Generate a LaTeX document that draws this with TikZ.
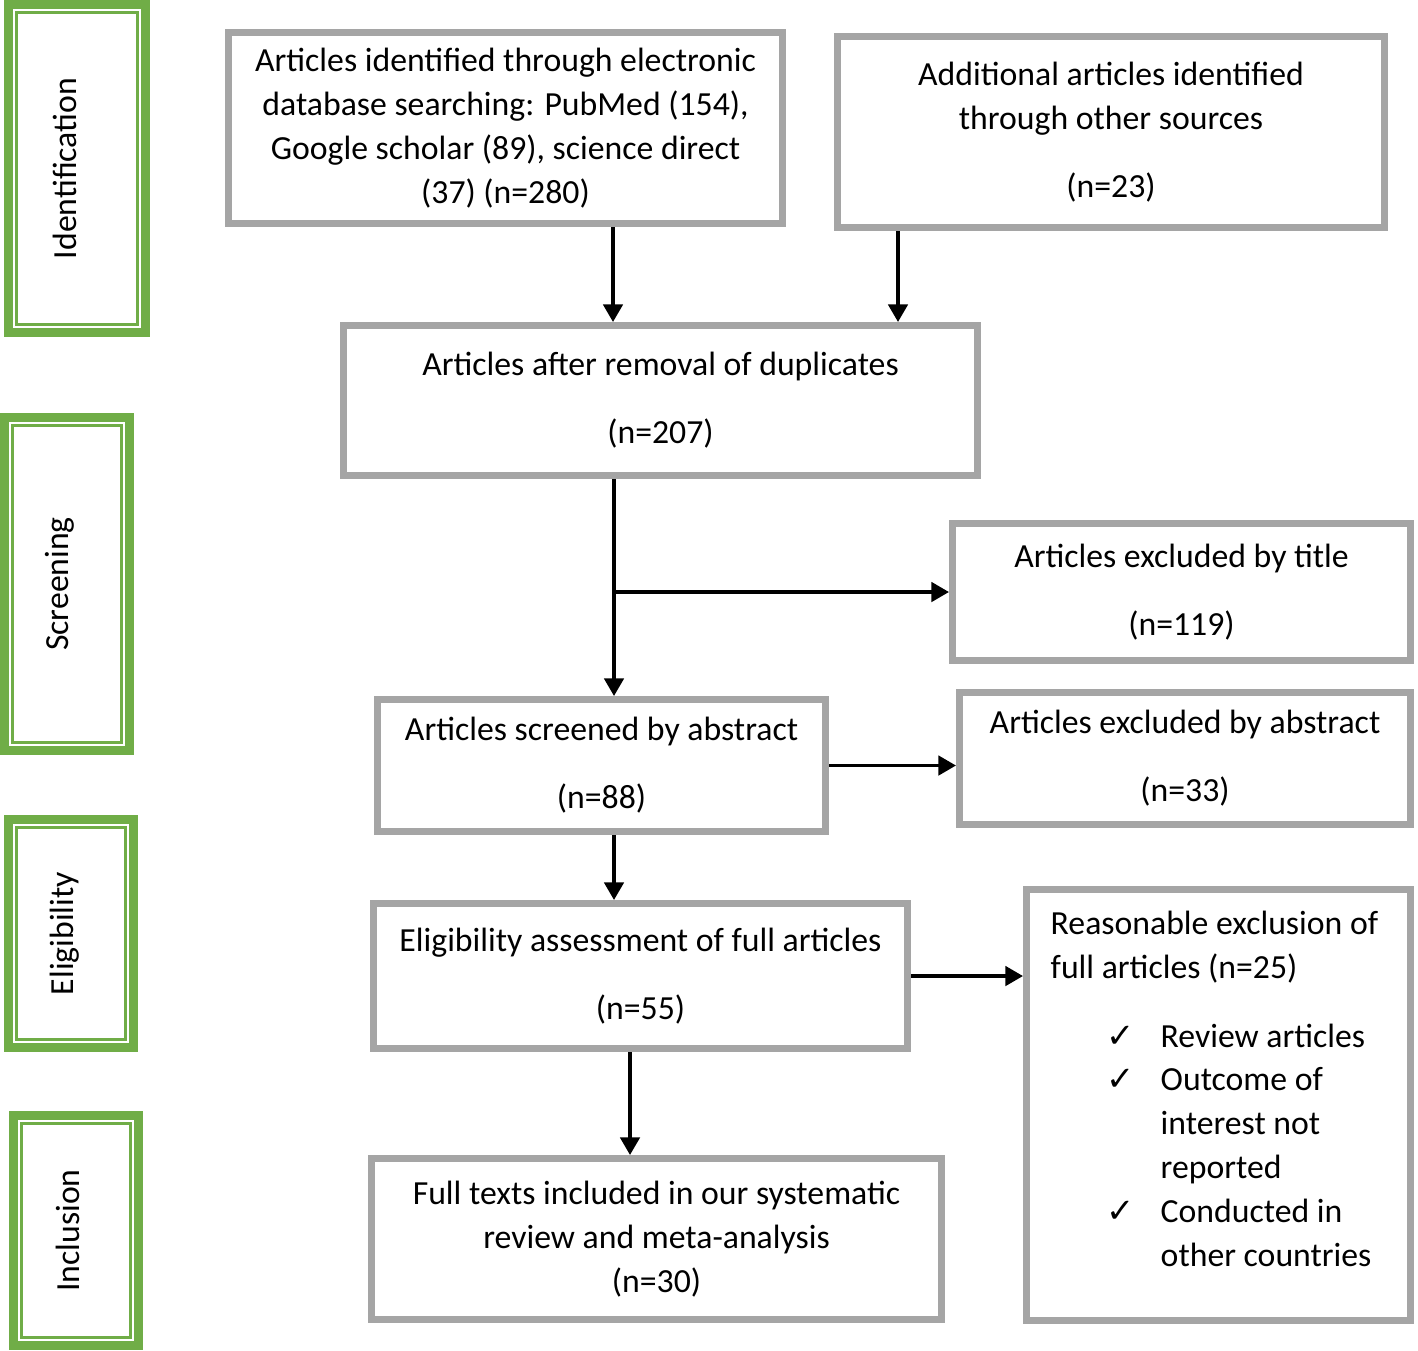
\documentclass[tikz,border=0pt]{standalone}
\usepackage{fontspec}
\setmainfont{Carlito}
\newfontfamily\checkfont{DejaVu Sans}
\usetikzlibrary{arrows.meta}
\definecolor{stagegreen}{HTML}{70AD47}
\definecolor{boxgray}{HTML}{A5A5A5}
\tikzset{
	stage/.style={draw=stagegreen, line width=2.6pt, inner sep=0pt},
	stageinner/.style={draw=stagegreen, line width=0.85pt},
	flowbox/.style={draw=boxgray, line width=2pt, align=center, inner sep=0pt},
	arr/.style={-{Triangle[length=5pt,width=5.5pt]}, line width=1pt},
}
\newcommand{\chk}{\hspace*{0.56cm}\makebox[0.54cm][l]{\checkfont ✓}}
\newcommand{\hang}{\hspace*{1.1cm}}

\begin{document}
\begin{tikzpicture}[every node/.style={font=\fontsize{9.6}{12.5}\selectfont}]
	\useasboundingbox (0,0) rectangle (14.18,-13.5);
	\node[stage, minimum width=1.37cm, minimum height=3.28cm] (idStage) at (0.77,-1.685) {\rotatebox{90}{Identification}\hspace*{0.24cm}};
	\node[stage, minimum width=1.25cm, minimum height=3.33cm] (scrStage) at (0.67,-5.84) {\rotatebox{90}{Screening}\hspace*{0.14cm}};
	\node[stage, minimum width=1.25cm, minimum height=2.28cm] (eligStage) at (0.71,-9.335) {\rotatebox{90}{Eligibility}\hspace*{0.12cm}};
	\node[stage, minimum width=1.25cm, minimum height=2.30cm] (inclStage) at (0.76,-12.305) {\rotatebox{90}{Inclusion}\hspace*{0.16cm}};
	\foreach \s in {idStage,scrStage,eligStage,inclStage}
		\draw[stageinner] ([shift={(0.13,0.13)}]\s.south west) rectangle ([shift={(-0.13,-0.13)}]\s.north east);
	
	\node[flowbox, minimum width=5.54cm, minimum height=1.91cm] (dbSearch) at (5.055,-1.28)
		{Articles identified through electronic\\database searching: PubMed (154),\\Google scholar (89), science direct\\(37) (n=280)};
	\node[flowbox, minimum width=5.47cm, minimum height=1.91cm] (otherSrc) at (11.11,-1.32)
		{Additional articles identified\\through other sources\\[0.24cm](n=23)};
	\node[flowbox, minimum width=6.34cm, minimum height=1.50cm] (dedup) at (6.605,-4.005)
		{Articles after removal of duplicates\\[0.24cm](n=207)};
	\node[flowbox, minimum width=4.58cm, minimum height=1.37cm] (byTitle) at (11.815,-5.92)
		{Articles excluded by title\\[0.24cm](n=119)};
	\node[flowbox, minimum width=4.48cm, minimum height=1.32cm] (abstr) at (6.015,-7.655)
		{Articles screened by abstract\\[0.24cm](n=88)};
	\node[flowbox, minimum width=4.51cm, minimum height=1.32cm] (byAbstr) at (11.85,-7.585)
		{Articles excluded by abstract\\[0.24cm](n=33)};
	\node[flowbox, minimum width=5.34cm, minimum height=1.45cm] (fullArt) at (6.405,-9.76)
		{Eligibility assessment of full articles\\[0.24cm](n=55)};
	\node[flowbox, minimum width=3.84cm, minimum height=4.31cm] (fullExcl) at (12.185,-11.05) {};
	\node[anchor=north west, align=left, inner sep=0pt] (exclText) at (10.50,-9.10)
		{Reasonable exclusion of\\full articles (n=25)\\[0.25cm]
		\chk Review articles\\\chk Outcome of\\\hang interest not\\\hang reported\\
		\chk Conducted in\\\hang other countries};
	\node[flowbox, minimum width=5.70cm, minimum height=1.61cm] (included) at (6.565,-12.39)
		{Full texts included in our systematic\\review and meta-analysis\\(n=30)};
	
	\path[arr]
	([xshift=1.075cm]dbSearch.south) edge ([xshift=1.075cm]dbSearch.south |- dedup.north)
	([xshift=-2.13cm]otherSrc.south) edge ([xshift=-2.13cm]otherSrc.south |- dedup.north)
	([xshift=-0.465cm]dedup.south) edge ([xshift=-0.465cm]dedup.south |- abstr.north)
	([xshift=-0.465cm]dedup.south |- byTitle.west) edge (byTitle.west)
	(abstr.east) edge (abstr.east -| byAbstr.west)
	([xshift=0.125cm]abstr.south) edge ([xshift=0.125cm]abstr.south |- fullArt.north)
	(fullArt.east) edge (fullArt.east -| fullExcl.west)
	([xshift=-0.105cm]fullArt.south) edge ([xshift=-0.105cm]fullArt.south |- included.north)
	;
\end{tikzpicture}
\end{document}
